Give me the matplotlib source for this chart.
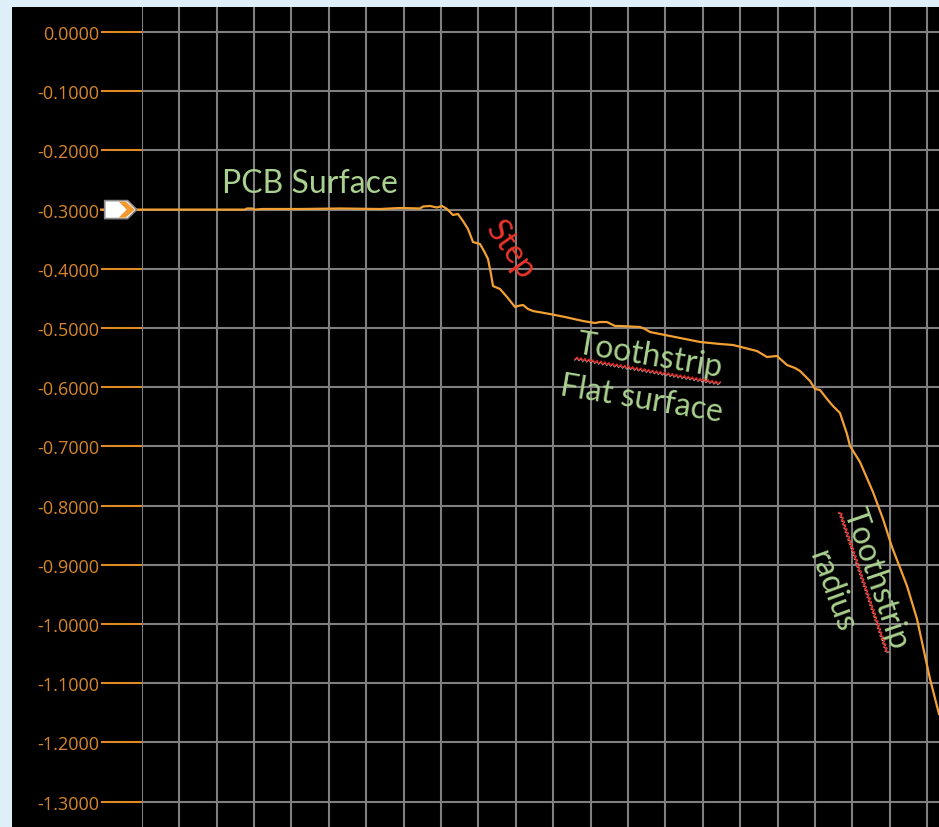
import numpy as np
import matplotlib
matplotlib.use("Agg")
import matplotlib.pyplot as plt
from matplotlib import transforms as mtransforms
from matplotlib.patches import Rectangle, Polygon
from matplotlib.lines import Line2D

# ---------------- data ----------------
x_pos = [-1.088, 0.0, 2.762, 2.816, 2.949, 3.029, 3.217, 4.233, 5.302, 6.372,
         6.907, 7.441, 7.521, 7.709, 7.896, 8.029, 8.163, 8.324, 8.457, 8.591,
         8.725, 8.858, 9.045, 9.152, 9.259, 9.339, 9.393, 9.580, 9.767, 9.981,
         10.061, 10.195, 10.329, 10.462, 10.917, 11.318, 11.799, 12.120, 12.254, 12.441,
         12.655, 12.789, 13.324, 13.457, 13.591, 14.126, 14.928, 15.463, 15.810, 16.131,
         16.452, 16.719, 16.987, 17.254, 17.468, 17.602, 17.869, 18.003, 18.136, 18.324,
         18.484, 18.671, 18.751, 18.858, 18.938, 19.206, 19.553, 19.821, 20.061, 20.463,
         20.730, 21.078, 21.318]
depth = [-0.3000, -0.3000, -0.3000, -0.2981, -0.2981, -0.3000, -0.2990, -0.2990, -0.2981, -0.2990,
         -0.2973, -0.2981, -0.2948, -0.2939, -0.2965, -0.2939, -0.2990, -0.3091, -0.3074, -0.3193,
         -0.3328, -0.3547, -0.3581, -0.3699, -0.3834, -0.4088, -0.4291, -0.4341, -0.4476, -0.4645,
         -0.4628, -0.4611, -0.4679, -0.4713, -0.4764, -0.4814, -0.4882, -0.4916, -0.4899, -0.4899,
         -0.4966, -0.4966, -0.4983, -0.5017, -0.5068, -0.5135, -0.5236, -0.5270, -0.5287, -0.5338,
         -0.5389, -0.5490, -0.5473, -0.5625, -0.5676, -0.5726, -0.5895, -0.6030, -0.6047, -0.6199,
         -0.6318, -0.6436, -0.6588, -0.6791, -0.6993, -0.7264, -0.7770, -0.8226, -0.8699, -0.9358,
         -0.9916, -1.0929, -1.1520]

y_ticks = [0.0, -0.1, -0.2, -0.3, -0.4, -0.5, -0.6, -0.7, -0.8, -0.9, -1.0, -1.1, -1.2, -1.3]
y_tick_labels = ["%.4f" % v for v in y_ticks]
x_grid = list(range(0, 22))
marker_level = -0.3

# text, x, y, rotation, colour, vertical anchor
annotations = [
    ("PCB Surface", 4.50, -0.2703, 0, "#a9d08e", "baseline"),
    ("Step", 9.85, -0.3666, -55, "#e8352b", "center"),
    ("Toothstrip", 13.54, -0.5608, -9.5, "#a9d08e", "baseline"),
    ("Flat surface", 13.33, -0.6351, -9.5, "#a9d08e", "baseline"),
    ("Toothstrip", 19.39, -0.9274, -71, "#a9d08e", "baseline"),
    ("radius", 18.46, -0.9440, -70, "#a9d08e", "center"),
]

# ---------------- figure ----------------
W, H = 939, 828
fig = plt.figure(figsize=(W / 100, H / 100), dpi=100)
fig.patch.set_facecolor("#dfeff9")
fig.add_artist(Rectangle((12 / W, 0), 1 - 12 / W, (H - 8) / H, transform=fig.transFigure,
                         facecolor="black", edgecolor="none", zorder=0))

ax = fig.add_axes([141.7 / W, 0, 1 - 141.7 / W, (H - 8) / H])
ax.patch.set_alpha(0)
for s in ax.spines.values():
    s.set_visible(False)

ax.set_xlim(0, (W - 141.7) / 37.4)
ax.set_ylim(-(H - 33) / 592, (33 - 8) / 592)

ax.set_xticks(x_grid)
ax.set_xticklabels([])
ax.tick_params(axis="x", length=0)
ax.set_yticks(y_ticks)
ax.set_yticklabels(y_tick_labels, fontfamily="Open Sans", fontsize=13, color="#d6862a")
ax.tick_params(axis="y", direction="out", length=29.5, width=1.5, color="#e08a25", pad=1)
ax.grid(True, color="#7f7f7f", linewidth=1.5)
ax.set_axisbelow(True)

ax.plot(x_pos, depth, color="#f2a033", linewidth=1.6, clip_on=False, zorder=3)

for txt, x, y, rot, col, va in annotations:
    ax.text(x, y, txt, fontfamily="Lato", fontsize=23, color=col, rotation=rot,
            ha="center", va=va, rotation_mode="anchor", zorder=4)

# marker at level
fig.canvas.draw()
ax_px = ax.transData.transform((0, marker_level))
anchor = mtransforms.Affine2D().translate(ax_px[0], ax_px[1])
body = Polygon([(-37, 9), (-14, 9), (-5, 0), (-14, -9), (-37, -9)], closed=True,
               facecolor="white", edgecolor="#8a8a8a", linewidth=1.2,
               joinstyle="round", transform=anchor, zorder=6)
fig.add_artist(body)
chev = Polygon([(-23, 8), (-16, 8), (-7, 0), (-16, -8), (-23, -8), (-15, 0)], closed=True,
               facecolor="#f29a2e", edgecolor="none", transform=anchor, zorder=7)
fig.add_artist(chev)

# spell-check squiggles (pixel coords, image y downward)
def squiggle(p0, p1):
    p0 = np.array([p0[0], H - p0[1]], float)
    p1 = np.array([p1[0], H - p1[1]], float)
    d = p1 - p0
    L = np.hypot(*d)
    u = d / L
    nrm = np.array([-u[1], u[0]])
    n = int(L / 2)
    t = np.linspace(0, L, n + 1)
    off = np.where(np.arange(n + 1) % 2 == 0, -1.3, 1.3)
    pts = p0 + np.outer(t, u) + np.outer(off, nrm)
    fig.add_artist(Line2D(pts[:, 0], pts[:, 1] - 0.8, color="#ffffff", linewidth=0.8,
                          transform=mtransforms.IdentityTransform(), zorder=5, alpha=0.7))
    fig.add_artist(Line2D(pts[:, 0], pts[:, 1], color="#e0201c", linewidth=0.9,
                          transform=mtransforms.IdentityTransform(), zorder=5))

squiggle((575, 359), (720, 384))
squiggle((840, 513), (887, 653))

fig.savefig("out.png", dpi=100, facecolor=fig.get_facecolor())
